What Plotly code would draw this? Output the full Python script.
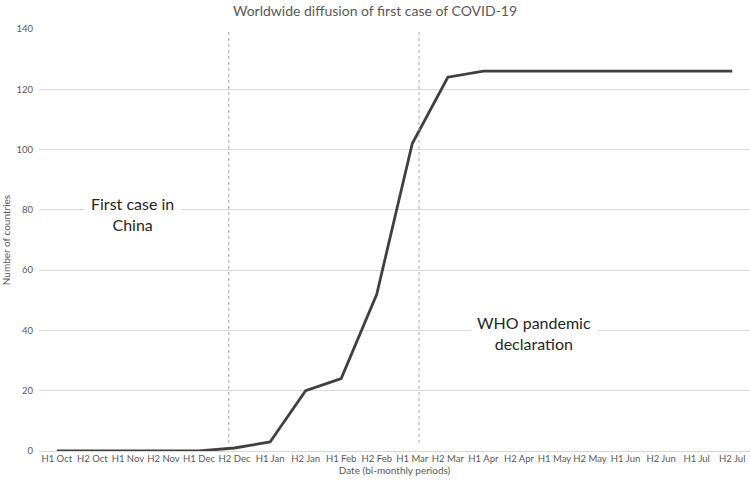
import plotly.graph_objects as go

# 20 bi-monthly periods: H1 Oct .. H2 Jul
periods = ["H1 Oct", "H2 Oct", "H1 Nov", "H2 Nov", "H1 Dec", "H2 Dec", "H1 Jan",
           "H2 Jan", "H1 Feb", "H2 Feb", "H1 Mar", "H2 Mar", "H1 Apr", "H2 Apr",
           "H1 May", "H2 May", "H1 Jun", "H2 Jun", "H1 Jul", "H2 Jul"]
countries = [0, 0, 0, 0, 0, 1, 3, 20, 24, 52, 102, 124, 126, 126,
             126, 126, 126, 126, 126, 126]
y_ticks = [0, 20, 40, 60, 80, 100, 120, 140]

# event markers (category index positions) and labels
event_x = [4.84, 10.19]
event_labels = ["First case in<br>China", "WHO pandemic<br>declaration"]
label_x = [2.14, 13.43]
label_y = [78.5, 39.2]

FONT = "Lato, 'Open Sans', sans-serif"
GRAY = "#595959"

fig = go.Figure()
fig.add_trace(go.Scatter(
    x=list(range(len(periods))), y=countries, mode="lines",
    line=dict(color="#404040", width=2.8), hoverinfo="skip", showlegend=False))

for ex in event_x:
    fig.add_shape(type="line", xref="x", yref="y", x0=ex, x1=ex, y0=2.7, y1=139.3,
                  line=dict(color="#a6a6a6", width=1, dash="dot"))

for t, lx, ly in zip(event_labels, label_x, label_y):
    fig.add_annotation(x=lx, y=ly, xref="x", yref="y", text=t, showarrow=False,
                       font=dict(family=FONT, size=16, color="#262626"),
                       bgcolor="white", borderpad=6)

n = len(periods)
fig.update_layout(
    width=750, height=487,
    margin=dict(l=39, r=0, t=29, b=36),
    paper_bgcolor="white", plot_bgcolor="white",
    title=dict(text="Worldwide diffusion of first case of COVID-19",
               x=0.5, xanchor="center", y=0.987, yanchor="top",
               font=dict(family=FONT, size=14, color=GRAY)),
    font=dict(family=FONT, color=GRAY),
    xaxis=dict(
        tickmode="array", tickvals=list(range(n)), ticktext=periods,
        range=[-0.5, n - 0.5], showgrid=False, zeroline=False,
        showline=False, ticks="",
        tickfont=dict(family=FONT, size=9.5, color=GRAY),
        title=dict(text="Date (bi-monthly periods)", standoff=4,
                   font=dict(family=FONT, size=10, color=GRAY)),
    ),
    yaxis=dict(
        range=[0, 140], tickvals=y_ticks, showgrid=True, gridcolor="#d9d9d9",
        gridwidth=1, zeroline=True, zerolinecolor="#d9d9d9", zerolinewidth=1,
        showline=False, ticks="", ticklabelstandoff=5,
        tickfont=dict(family=FONT, size=9.5, color=GRAY),
        title=dict(text="Number of countries", standoff=3,
                   font=dict(family=FONT, size=10, color=GRAY)),
    ),
)

fig.write_html("out.html", config={"displayModeBar": False},
               post_script="document.body.style.margin='0';document.body.style.padding='0';")
